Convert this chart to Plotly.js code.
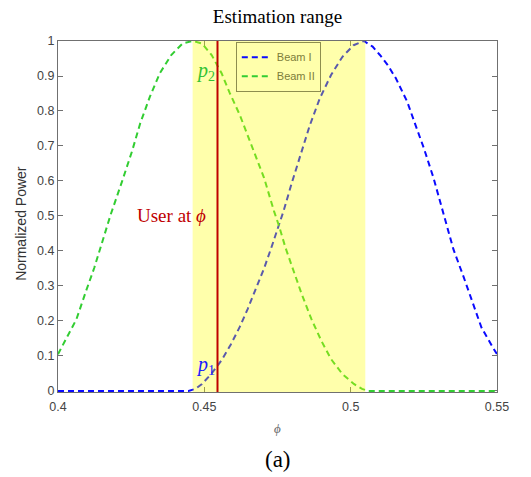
<!DOCTYPE html>
<html>
<head>
<meta charset="utf-8">
<script src="https://cdn.plot.ly/plotly-3.0.1.min.js"></script>
<style>html,body{margin:0;padding:0;background:#fff;}</style>
</head>
<body>
<div id="chart" style="width:531px;height:477px;"></div>
<script>
// Beam I (blue)
const beam1Phi = [0.4000, 0.4200, 0.4446, 0.4470, 0.4492, 0.4525, 0.4559, 0.4590, 0.4621, 0.4648, 0.4676, 0.4704, 0.4730, 0.4755, 0.4771, 0.4799, 0.4833, 0.4860, 0.4894, 0.4933, 0.4972, 0.5010, 0.5045, 0.5075, 0.5100, 0.5126, 0.5154, 0.5193, 0.5221, 0.5250, 0.5283, 0.5312, 0.5323, 0.5351, 0.5385, 0.5413, 0.5447, 0.5486, 0.5500];
const beam1Pow = [0, 0, 0, 0.006, 0.020, 0.050, 0.088, 0.132, 0.183, 0.234, 0.291, 0.350, 0.412, 0.472, 0.515, 0.595, 0.685, 0.758, 0.835, 0.903, 0.955, 0.988, 1.000, 0.984, 0.960, 0.932, 0.894, 0.827, 0.761, 0.694, 0.609, 0.523, 0.490, 0.405, 0.328, 0.262, 0.181, 0.124, 0.105];
// Beam II (green)
const beam2Phi = [0.4000, 0.4063, 0.4096, 0.4124, 0.4152, 0.4180, 0.4219, 0.4253, 0.4281, 0.4314, 0.4348, 0.4387, 0.4426, 0.4460, 0.4492, 0.4525, 0.4559, 0.4587, 0.4621, 0.4648, 0.4676, 0.4704, 0.4738, 0.4755, 0.4777, 0.4805, 0.4833, 0.4866, 0.4900, 0.4933, 0.4972, 0.5011, 0.5039, 0.5060, 0.5300, 0.5500];
const beam2Pow = [0.105, 0.205, 0.286, 0.352, 0.428, 0.504, 0.599, 0.685, 0.765, 0.841, 0.908, 0.960, 0.993, 1.000, 0.993, 0.960, 0.908, 0.851, 0.789, 0.732, 0.670, 0.609, 0.514, 0.472, 0.410, 0.343, 0.276, 0.205, 0.143, 0.091, 0.048, 0.020, 0.006, 0, 0, 0];

const seriesNames = ["Beam I", "Beam II"];
const estRange = [0.446, 0.505];
const userPhi = 0.4545;
const p1Level = 0.074;
const p2Level = 0.912;

const xTickVals = [0.4, 0.45, 0.5, 0.55];
const xTickText = ["0.4", "0.45", "0.5", "0.55"];
const yTickVals = [0, 0.1, 0.2, 0.3, 0.4, 0.5, 0.6, 0.7, 0.8, 0.9, 1];
const yTickText = ["0", "0.1", "0.2", "0.3", "0.4", "0.5", "0.6", "0.7", "0.8", "0.9", "1"];

const sans = "Liberation Sans, Arial, sans-serif";
const serif = "Liberation Serif, Times New Roman, serif";

const traces = [
  {x: beam1Phi, y: beam1Pow, name: seriesNames[0], type: "scatter", mode: "lines", cliponaxis: false,
   line: {color: "#0a0aff", width: 2, dash: "6px,4px"}},
  {x: beam2Phi, y: beam2Pow, name: seriesNames[1], type: "scatter", mode: "lines", cliponaxis: false,
   line: {color: "rgb(50,205,50)", width: 2, dash: "6px,4px"}}
];

const axisCommon = {
  showgrid: false, zeroline: false, showline: true, mirror: "ticks",
  linecolor: "#707070", linewidth: 1, ticks: "inside", ticklen: 5,
  tickcolor: "#707070", tickfont: {family: sans, size: 12.5, color: "#444"},
  layer: "below traces", fixedrange: true
};

const layout = {
  width: 531, height: 477,
  margin: {l: 58, r: 34, t: 41, b: 85},
  paper_bgcolor: "#fff", plot_bgcolor: "#fff",
  title: {text: "Estimation range", x: 0.5, xref: "paper", xanchor: "center",
          y: 1 - 16/477, yref: "container", yanchor: "middle",
          font: {family: serif, size: 19, color: "#000"}},
  xaxis: Object.assign({}, axisCommon, {range: [0.4, 0.55], tickmode: "array",
          tickvals: xTickVals, ticktext: xTickText, ticklabelstandoff: 3}),
  yaxis: Object.assign({}, axisCommon, {range: [-0.003, 1], tickmode: "array",
          tickvals: yTickVals, ticktext: yTickText}),
  showlegend: true,
  legend: {x: 0.405, y: 0.998, xanchor: "left", yanchor: "top",
           bgcolor: "rgba(0,0,0,0)", bordercolor: "#8e8e4e", borderwidth: 1,
           tracegroupgap: 0,
           font: {family: sans, size: 11, color: "#7d7d3a"}},
  shapes: [
    {type: "rect", xref: "x", yref: "y", x0: estRange[0], x1: estRange[1], y0: -0.003, y1: 1,
     fillcolor: "rgba(255,255,0,0.33)", line: {width: 0}, layer: "above"},
    {type: "line", xref: "x", yref: "y", x0: userPhi, x1: userPhi, y0: -0.003, y1: 1,
     line: {color: "#bf0000", width: 2}, layer: "above"}
  ],
  annotations: [
    {x: userPhi, y: 0.5, xref: "x", yref: "y", xanchor: "right", yanchor: "middle",
     xshift: -10, showarrow: false, text: "User at <i>ϕ</i>",
     font: {family: serif, size: 19, color: "#c00000"}},
    {x: userPhi, y: p2Level, xref: "x", yref: "y", xanchor: "right", yanchor: "middle",
     xshift: -1, showarrow: false, text: "<i>p</i><sub>2</sub>",
     font: {family: serif, size: 20, color: "#33c233"}},
    {x: userPhi, y: p1Level, xref: "x", yref: "y", xanchor: "right", yanchor: "middle",
     xshift: -1, showarrow: false, text: "<i>p</i><sub>1</sub>",
     font: {family: serif, size: 20, color: "#1a1aff"}},
    {x: 0.5, y: -(428 - 392) / 351, xref: "paper", yref: "paper", xanchor: "center", yanchor: "middle",
     showarrow: false, text: "<i>ϕ</i>", font: {family: serif, size: 13, color: "#666"}},
    {x: 0.5, y: -(460 - 392) / 351, xref: "paper", yref: "paper", xanchor: "center", yanchor: "middle",
     showarrow: false, text: "(a)", font: {family: serif, size: 23, color: "#000"}},
    {x: -(58 - 21) / 439, y: 0.479, xref: "paper", yref: "paper", xanchor: "center", yanchor: "middle",
     textangle: -90, showarrow: false, text: "Normalized Power",
     font: {family: sans, size: 14, color: "#333"}}
  ]
};

Plotly.newPlot("chart", traces, layout, {displayModeBar: false, staticPlot: true});
</script>
</body>
</html>
